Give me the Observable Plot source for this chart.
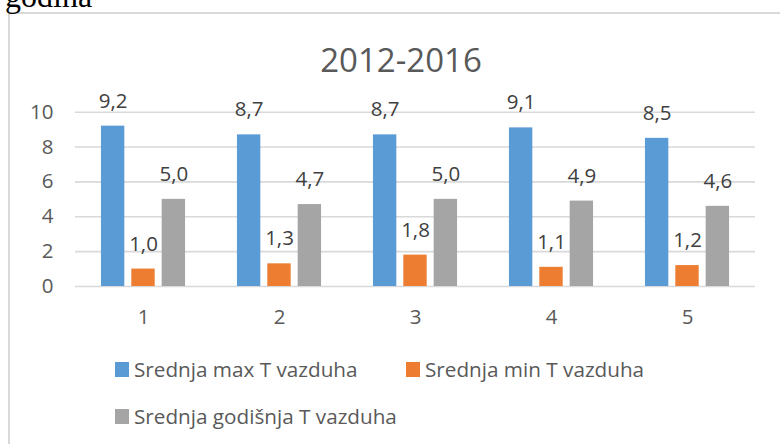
<!DOCTYPE html>
<html>
<head>
<meta charset="utf-8">
<script src="https://cdn.jsdelivr.net/npm/d3@7"></script>
<script src="https://cdn.jsdelivr.net/npm/@observablehq/plot@0.6"></script>
<style>
  html, body { margin: 0; padding: 0; background: #fff; }
  #wrap { position: relative; width: 780px; height: 444px; overflow: hidden; background: #fff; font-family: "Open Sans", sans-serif; }
  #frame { position: absolute; left: 8px; top: 12px; width: 820px; height: 520px; border: 2px solid #d9d9d9; box-sizing: border-box; }
  #above { position: absolute; left: 5px; top: -20px; font-family: "Liberation Serif", serif; font-size: 32px; line-height: 32px; color: #000; white-space: nowrap; }
  #title { position: absolute; left: 0; width: 802px; top: 42.7px; text-align: center; font-size: 33px; line-height: 33px; color: #595959; white-space: nowrap; }
  #chart { position: absolute; left: 0; top: 0; }
  .leg { position: absolute; font-size: 20.7px; line-height: 20.7px; color: #595959; white-space: nowrap; }
  .sw { position: absolute; width: 14px; height: 15px; }
</style>
</head>
<body>
<div id="wrap">
  <div id="frame"></div>
  <div id="above">godina</div>
  <div id="title"></div>
  <div id="chart"></div>
  <div id="legend"></div>
</div>
<script>
const titleText = "2012-2016";
const categories = ["1", "2", "3", "4", "5"];
const seriesNames = ["Srednja max T vazduha", "Srednja min T vazduha", "Srednja godišnja T vazduha"];
const maxT = [9.2, 8.7, 8.7, 9.1, 8.5];
const minT = [1.0, 1.3, 1.8, 1.1, 1.2];
const avgT = [5.0, 4.7, 5.0, 4.9, 4.6];
const yTicks = [0, 2, 4, 6, 8, 10];
const colors = ["#5B9BD5", "#ED7D31", "#A5A5A5"];

const seriesValues = [maxT, minT, avgT];
const data = categories.flatMap((c, i) =>
  seriesNames.map((s, j) => ({cat: c, series: s, value: seriesValues[j][i]}))
);

document.getElementById("title").textContent = titleText;

const chart = Plot.plot({
  width: 780,
  height: 444,
  marginLeft: 73,
  marginRight: 24,
  marginTop: 111.7,
  marginBottom: 158,
  style: {fontFamily: "Open Sans", fontSize: "20.5px", color: "#595959", background: "none", overflow: "visible"},
  fx: {domain: categories, padding: 0, axis: "bottom", tickSize: 0, tickPadding: 23, label: null},
  x: {domain: seriesNames, axis: null, paddingInner: 0.23, paddingOuter: 0.855, round: false},
  y: {domain: [0, 10], ticks: yTicks, tickSize: 0, tickPadding: 22, label: null},
  color: {domain: seriesNames, range: colors},
  marks: [
    Plot.ruleY(yTicks, {stroke: "#d9d9d9", strokeWidth: 1.6}),
    Plot.barY(data, {fx: "cat", x: "series", y: "value", fill: "series"}),
    Plot.text(data, {
      fx: "cat", x: "series", y: "value",
      text: d => d.value.toFixed(1).replace(".", ","),
      dy: -25, fill: "#404040", fontSize: 20.5
    })
  ]
});
document.getElementById("chart").appendChild(chart);

// legend
const legendPos = [
  {sx: 115, sy: 362, tx: 134, cy: 370},
  {sx: 406, sy: 362, tx: 425, cy: 370},
  {sx: 115, sy: 409, tx: 134, cy: 417}
];
const legend = document.getElementById("legend");
seriesNames.forEach((s, i) => {
  const p = legendPos[i];
  const sw = document.createElement("div");
  sw.className = "sw";
  sw.style.left = p.sx + "px";
  sw.style.top = p.sy + "px";
  sw.style.background = colors[i];
  legend.appendChild(sw);
  const t = document.createElement("div");
  t.className = "leg";
  t.style.left = p.tx + "px";
  t.style.top = (p.cy - 11) + "px";
  t.textContent = s;
  legend.appendChild(t);
});
</script>
</body>
</html>
